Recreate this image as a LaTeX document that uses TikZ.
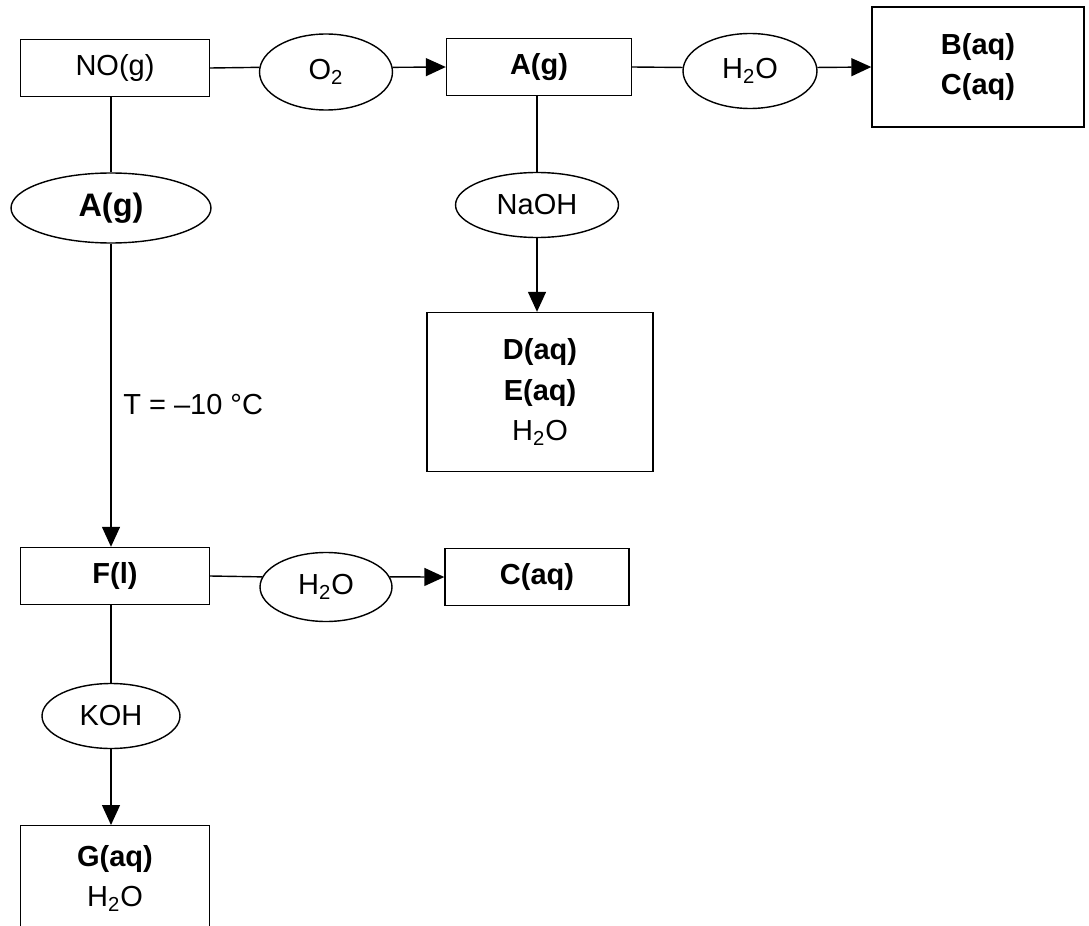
\documentclass[tikz,border=0pt]{standalone}
\usepackage{fontspec}
\setmainfont{Liberation Sans}
\usetikzlibrary{shapes.geometric,arrows.meta}
\begin{document}
\begin{tikzpicture}[x=0.02cm,y=-0.02cm,
  font=\fontsize{16.5}{23}\selectfont,
  box/.style={draw,line width=0.8pt,minimum width=3.78cm,minimum height=1.14cm,align=center,inner sep=2pt},
  oval/.style={draw,ellipse,line width=0.8pt,inner sep=0pt},
  link/.style={line width=0.8pt},
  flow/.style={line width=0.8pt,-{Triangle[length=0.4cm,width=0.36cm]}}]
  \useasboundingbox (0,0) rectangle (1089,926);
  \clip (0,0) rectangle (1089,926);
  % Top row
  \node[box] (no) at (115,68) {NO(g)};
  \node[oval,minimum width=2.66cm,minimum height=1.52cm] (o2) at (326,72) {O\textsubscript{2}};
  \node[box,minimum width=3.7cm] (ag) at (539,67) {\textbf{A(g)}};
  \node[oval,minimum width=2.68cm,minimum height=1.5cm] (wa) at (750,71) {H\textsubscript{2}O};
  \node[box,minimum width=4.24cm,minimum height=2.4cm] (bc) at (978,67) {\textbf{B(aq)}\\\textbf{C(aq)}};
  % Right column
  \node[oval,minimum width=3.26cm,minimum height=1.3cm] (naoh) at (537,205) {NaOH};
  \node[box,minimum width=4.52cm,minimum height=3.18cm] (de) at (540,392) {\textbf{D(aq)}\\\textbf{E(aq)}\\H\textsubscript{2}O};
  % Left column
  \node[oval,minimum width=4cm,minimum height=1.4cm,font=\fontsize{18.5}{23}\selectfont\bfseries] (ga) at (111,208) {A(g)};
  \node[anchor=west,inner sep=0pt] (cond) at (123,405) {T = –10 °C};
  \node[box] (fl) at (115,576) {\textbf{F(l)}};
  \node[oval,minimum width=2.64cm,minimum height=1.38cm] (wb) at (326,587) {H\textsubscript{2}O};
  \node[box,minimum width=3.68cm] (caq) at (537,577) {\textbf{C(aq)}};
  \node[oval,minimum width=2.76cm,minimum height=1.3cm] (koh) at (111,716) {KOH};
  \node[box,anchor=north,inner ysep=11pt,text depth=3cm] (gaq) at (115,825) {\textbf{G(aq)}\\H\textsubscript{2}O};
  % Connectors
  \draw[link] (no.east) -- (o2.176);
  \draw[flow] (o2.4) -- (ag.west);
  \draw[link] (ag.east) -- (wa.177);
  \draw[flow] (wa.3) -- (bc.west);
  \draw[link] (naoh.north |- ag.south) -- (naoh.north);
  \draw[flow] (naoh.south) -- (naoh.south |- de.north);
  \draw[link] (ga.north |- no.south) -- (ga.north);
  \draw[flow] (ga.south) -- (ga.south |- fl.north);
  \draw[link] (fl.east) -- (wb.171);
  \draw[flow] (wb.9) -- (caq.west);
  \draw[link] (koh.north |- fl.south) -- (koh.north);
  \draw[flow] (koh.south) -- (koh.south |- gaq.north);
\end{tikzpicture}
\end{document}
